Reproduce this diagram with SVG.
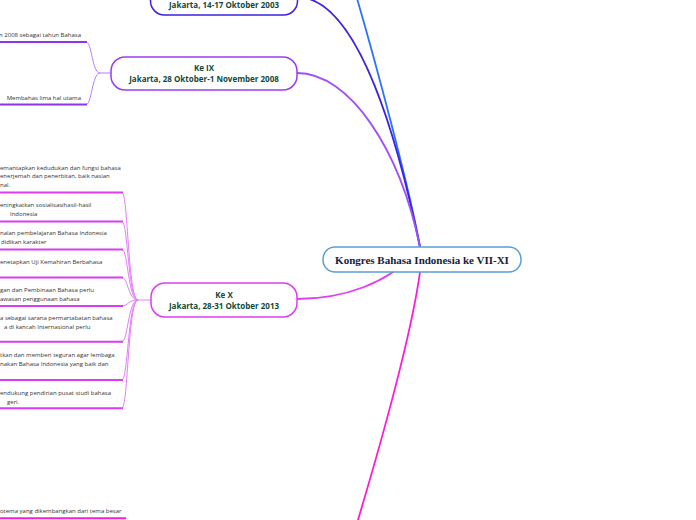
<svg xmlns="http://www.w3.org/2000/svg" width="696" height="520" viewBox="0 0 696 520">
<style>
.node{fill:#ffffff;stroke-width:1.5}
.ntext{font-family:"Open Sans","Noto Sans","Liberation Sans",sans-serif;font-weight:bold;font-size:8px;fill:#0f4a3a;text-anchor:middle}
.ctext{font-family:"Liberation Serif","DejaVu Serif",serif;font-weight:bold;font-size:11px;fill:#14213d;text-anchor:middle}
.leaf{font-family:"Open Sans","Noto Sans","Liberation Sans",sans-serif;font-size:6px;fill:#333333}
.main{fill:none;stroke-width:1.8;stroke-linecap:round}
.ul9{fill:none;stroke:#8a34f0;stroke-width:2}
.cv9{fill:none;stroke:#b57dff;stroke-width:1}
.ul10{fill:none;stroke:#d93cf2;stroke-width:2}
.cv10{fill:none;stroke:#e47cf8;stroke-width:1}
</style>
<g id="connectors">
<path class="main" stroke="#2a72ff" d="M420 247 C410 190,375 60,356 -5"/>
<path class="main" stroke="#3a22e0" d="M297 -3 C360 -3,400 150,420 247"/>
<path class="main" stroke="#a050f5" d="M297 73 C350 73,400 150,420 247"/>
<path class="main" stroke="#e03cf0" d="M297 299 C340 299,390 285,420 247"/>
<path class="main" stroke="#ff1ad8" d="M420 272 C412 330,385 430,355 530"/>
<path class="cv9" d="M111 73 H100 C92 73,92 42,86 42"/>
<path class="cv9" d="M100 73 C92 73,92 104.5,86 104.5"/>
<path class="ul9" d="M-2 42 H87"/>
<path class="ul9" d="M-2 104.5 H87"/>
<path class="cv10" d="M151 300 H138"/>
<path class="cv10" d="M138 300 C128 300,128 192.5,122 192.5"/>
<path class="cv10" d="M138 300 C128 300,128 221.5,122 221.5"/>
<path class="cv10" d="M138 300 C128 300,128 249.5,122 249.5"/>
<path class="cv10" d="M138 300 C128 300,128 277.5,122 277.5"/>
<path class="cv10" d="M138 300 C128 300,128 306,122 306"/>
<path class="cv10" d="M138 300 C128 300,128 341.7,122 341.7"/>
<path class="cv10" d="M138 300 C128 300,128 380,122 380"/>
<path class="cv10" d="M138 300 C128 300,128 408.3,122 408.3"/>
<path class="ul10" d="M-2 192.5 H123"/>
<path class="ul10" d="M-2 221.5 H123"/>
<path class="ul10" d="M-2 249.5 H123"/>
<path class="ul10" d="M-2 277.5 H123"/>
<path class="ul10" d="M-2 306 H123"/>
<path class="ul10" d="M-2 341.7 H123"/>
<path class="ul10" d="M-2 380 H123"/>
<path class="ul10" d="M-2 408.3 H123"/>
<path fill="none" stroke="#ff1ad8" stroke-width="2" d="M-2 518.3 H126"/>
</g>
<g id="center">
<rect class="node" x="323" y="247" width="198" height="25" rx="12" stroke="#5a9fd6"/>
<text class="ctext" x="422" y="264">Kongres Bahasa Indonesia ke VII-XI</text>
</g>
<g id="ke8">
<rect class="node" x="150.5" y="-19" width="147" height="34" rx="14" stroke="#3a22e0"/>
<text class="ntext" x="224" y="7.5">Jakarta, 14-17 Oktober 2003</text>
</g>
<g id="ke9">
<rect class="node" x="111" y="57" width="186" height="33" rx="14" stroke="#9a3cf2"/>
<text class="ntext" x="204" y="71">Ke IX</text>
<text class="ntext" x="204" y="82">Jakarta, 28 Oktober-1 November 2008</text>
</g>
<g id="ke9-a"><text class="leaf" x="81" y="36.5" text-anchor="end">n 2008 sebagai tahun Bahasa</text></g>
<g id="ke9-b"><text class="leaf" x="81" y="100" text-anchor="end">Membahas lima hal utama</text></g>
<g id="ke10">
<rect class="node" x="151" y="283" width="146" height="34" rx="14" stroke="#dd3cf0"/>
<text class="ntext" x="224" y="297.5">Ke X</text>
<text class="ntext" x="224" y="308.5">Jakarta, 28-31 Oktober 2013</text>
</g>
<g id="ke10-1"><text class="leaf" x="0" y="169.5">emantapkan kedudukan dan fungsi bahasa</text><text class="leaf" x="0" y="177.5">enerjemah dan penerbitan, baik nasian</text><text class="leaf" x="0" y="186.5">nal.</text></g>
<g id="ke10-2"><text class="leaf" x="0" y="207">eningkatkan sosialisasihasil-hasil</text><text class="leaf" x="10" y="215.5">Indonesia</text></g>
<g id="ke10-3"><text class="leaf" x="0" y="235">nalan pembelajaran Bahasa Indonesia</text><text class="leaf" x="1" y="243.5">didikan karakter</text></g>
<g id="ke10-4"><text class="leaf" x="0" y="263.5">enetapkan Uji Kemahiran Berbahasa</text></g>
<g id="ke10-5"><text class="leaf" x="0" y="292">gan dan Pembinaan Bahasa perlu</text><text class="leaf" x="0" y="301">awasan penggunaan bahasa</text></g>
<g id="ke10-6"><text class="leaf" x="0" y="320">a sebagai sarana permartabatan bahasa</text><text class="leaf" x="4" y="329">a di kancah Internasional perlu</text></g>
<g id="ke10-7"><text class="leaf" x="0" y="357">tkan dan memberi teguran agar lembaga</text><text class="leaf" x="0" y="366">nakan Bahasa Indonesia yang baik dan</text></g>
<g id="ke10-8"><text class="leaf" x="0" y="395">endukung pendirian pusat studi bahasa</text><text class="leaf" x="7" y="404">geri.</text></g>
<g id="ke11-a"><text class="leaf" x="0" y="513">otema yang dikembangkan dari tema besar</text></g>
</svg>
